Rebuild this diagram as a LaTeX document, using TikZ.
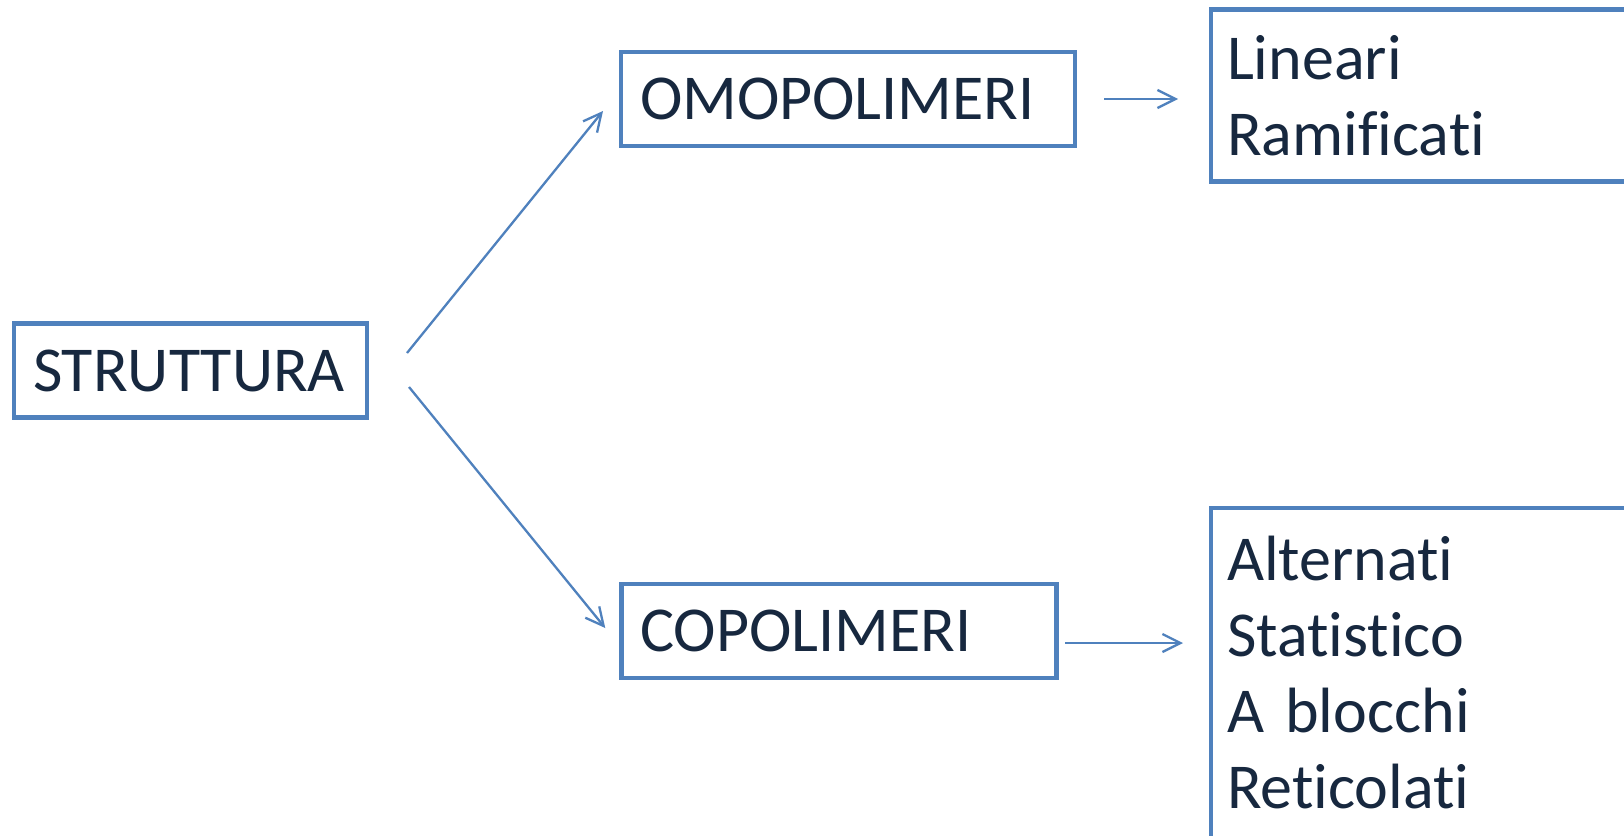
\documentclass[tikz,border=0pt]{standalone}
\usepackage{fontspec}
\setmainfont[Ligatures=NoCommon]{Carlito}
\usetikzlibrary{arrows.meta}
\definecolor{boxblue}{HTML}{4F81BD}
\definecolor{inkblue}{HTML}{17283F}
\tikzset{
  box/.style={draw=boxblue, line width=4.5pt, text=inkblue, align=left, outer sep=0pt,
    inner xsep=19pt, inner ysep=0pt, font=\fontsize{64}{76}\selectfont},
  arr/.style={draw=boxblue, line width=2.3pt,
    -{Straight Barb[length=18pt,width=18pt]}}
}
\begin{document}
\begin{tikzpicture}[x=1pt,y=-1pt]
\useasboundingbox (0,0) rectangle (1624,835);
\clip (0,0) rectangle (1624,835);
\fill [white] (0,0) rectangle (1624,835);

\node [box, minimum width=353pt, minimum height=94pt, text width=315pt] (strut) at (190.5,370.5) {STRUTTURA};
\node [box, minimum width=454pt, minimum height=94pt, text width=416pt] (omo) at (848,99) {OMOPOLIMERI};
\node [box, minimum width=435pt, minimum height=94pt, text width=397pt] (copo) at (838.75,631) {COPOLIMERI};
\node [box, anchor=north west, inner xsep=16pt, minimum height=172pt, text width=460pt] (lin) at (1211,9.5) {Lineari\\Ramificati};
\node [box, anchor=north west, inner xsep=16pt, minimum height=330pt, text width=460pt] (tipi) at (1211,508) {Alternati\\Statistico\\A blocchi\\Reticolati};

% connectors
\draw [arr] ([xshift=40pt,yshift=17.5pt]strut.east) -- ([xshift=-18pt,yshift=-12pt]omo.west);
\draw [arr] ([xshift=42pt,yshift=-16.5pt]strut.east) -- ([xshift=-16pt,yshift=3pt]copo.west);
\draw [arr] ([xshift=29pt]omo.east) -- ([xshift=-33pt]lin.west |- omo.east);
\draw [arr] ([xshift=9pt,yshift=-12pt]copo.east) -- ([xshift=-28pt,yshift=-12pt]tipi.west |- copo.east);
\end{tikzpicture}
\end{document}
